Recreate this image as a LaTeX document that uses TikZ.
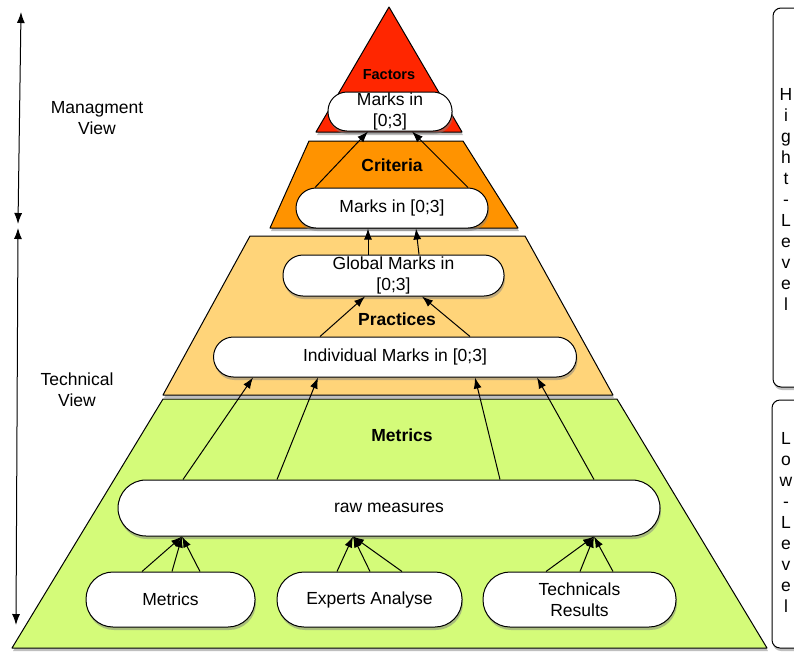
\documentclass[tikz,border=0pt]{standalone}
\usepackage{fontspec}
\setmainfont{Liberation Sans}
\usetikzlibrary{arrows.meta,calc,shadows}
\definecolor{cred}{HTML}{FF2600}
\definecolor{corange}{HTML}{FF9300}
\definecolor{clight}{HTML}{FFD479}
\definecolor{cgreen}{HTML}{D4FB79}
\tikzset{
  layer/.style={draw=black, line width=1pt, line join=round,
    drop shadow={shadow xshift=1pt, shadow yshift=-3pt, opacity=0.5}},
  pill/.style={draw=black, fill=white, line width=1pt, rounded corners=#1,
    inner sep=0pt, align=center, font=\fontsize{17.5}{21}\selectfont,
    drop shadow={shadow xshift=1pt, shadow yshift=-3pt, opacity=0.5}},
  lbl/.style={font=\fontsize{17.5}{21}\selectfont, align=center, inner sep=0pt},
  blbl/.style={font=\fontsize{17.5}{21}\selectfont\bfseries, inner sep=0pt},
  side/.style={draw=black, line width=1pt, fill=white, rounded corners=8pt,
    drop shadow={shadow xshift=1pt, shadow yshift=-3pt, opacity=0.5}},
  arr/.style={line width=1pt, -{Latex[length=11pt,width=8pt]}},
  dbl/.style={line width=1pt, {Latex[length=11pt,width=8pt]}-{Latex[length=11pt,width=8pt]}}
}
\begin{document}
\begin{tikzpicture}[x=1pt,y=-1pt]
\useasboundingbox (0,0) rectangle (794,651);
% pyramid layers
\draw[layer, fill=cgreen] (163,399) -- (617,399) -- (767,648) -- (12,648) -- cycle;
\draw[layer, fill=clight] (250,236) -- (525,236) -- (613,395) -- (163,395) -- cycle;
\draw[layer, fill=corange] (309,141) -- (463,141) -- (518,228) -- (270,228) -- cycle;
\draw[layer, fill=cred] (389,7) -- (462,132) -- (316,132) -- cycle;
% layer titles
\node[blbl, font=\fontsize{14.5}{17}\selectfont\bfseries] (tfac) at (389,75) {Factors};
\node[blbl] (tcrit) at (392,165) {Criteria};
\node[blbl] (tprac) at (397,319) {Practices};
\node[blbl] (tmet) at (402,435) {Metrics};
% pills
\node[pill=19pt, minimum width=124pt, minimum height=39pt] (top) at (390,111.5) {Marks in\\{[0;3]}};
\node[pill=20pt, minimum width=192pt, minimum height=40pt] (crit) at (392,208) {Marks in [0;3]};
\node[pill=20pt, minimum width=221pt, minimum height=41pt] (glob) at (393.5,275.5) {Global Marks in\\{[0;3]}};
\node[pill=20pt, minimum width=363pt, minimum height=40pt] (ind) at (395,357) {Individual Marks in [0;3]};
\node[pill=28pt, minimum width=542pt, minimum height=56pt] (raw) at (389,508) {raw measures};
\node[pill=27pt, minimum width=169pt, minimum height=55pt] (met) at (170.5,599.5) {Metrics};
\node[pill=27pt, minimum width=185pt, minimum height=55pt] (exp) at (369.5,599.5) {Experts Analyse};
\node[pill=27pt, minimum width=193pt, minimum height=55pt] (tech) at (579.5,599.5) {Technicals\\Results};
% arrows bottom boxes -> raw
\foreach \d in {-28.5,1.5,29.5} \draw[arr] ($(met.north)+(\d,0)$) -- ($(raw.south)+(-207,0)$);
\foreach \d in {-32.5,0.5,32.5} \draw[arr] ($(exp.north)+(\d,0)$) -- ($(raw.south)+(-36,0)$);
\foreach \d in {-33.5,0.5,33.5} \draw[arr] ($(tech.north)+(\d,0)$) -- ($(raw.south)+(205,0)$);
% raw -> individual
\draw[arr] ($(raw.north)+(-206,0)$) -- ($(ind.south)+(-142,0)$);
\draw[arr] ($(raw.north)+(-112,0)$) -- ($(ind.south)+(-77,0)$);
\draw[arr] ($(raw.north)+(111,0)$) -- ($(ind.south)+(80,0)$);
\draw[arr] ($(raw.north)+(205,0)$) -- ($(ind.south)+(142,0)$);
% individual -> global
\draw[arr] ($(ind.north)+(-75,0)$) -- ($(glob.south)+(-28.5,0)$);
\draw[arr] ($(ind.north)+(75,0)$) -- ($(glob.south)+(28.5,0)$);
% global -> criteria
\draw[arr] ($(glob.north)+(-25.5,0)$) -- ($(crit.south)+(-24,0)$);
\draw[arr] ($(glob.north)+(25.5,0)$) -- ($(crit.south)+(24,0)$);
% criteria -> top
\draw[arr] ($(crit.north)+(-77,0)$) -- ($(top.south)+(-22,0)$);
\draw[arr] ($(crit.north)+(76,0)$) -- ($(top.south)+(22,0)$);
% left view arrows
\coordinate (m1) at (21,12);
\coordinate (m2) at (18,224);
\coordinate (t1) at (18,228);
\coordinate (t2) at (16,625);
\draw[dbl] (m1) -- (m2);
\draw[dbl] (t1) -- (t2);
\node[lbl] (mview) at (97,118.5) {Managment\\View};
\node[lbl] (tview) at (77,390) {Technical\\View};
% right level boxes
\draw[side] (773,8) rectangle (830,387);
\draw[side] (772,400) rectangle (830,648);
\node[lbl] (high) at (786,199) {H\\i\\g\\h\\t\\-\\L\\e\\v\\e\\l};
\node[lbl] (low) at (786,522.5) {L\\o\\w\\-\\L\\e\\v\\e\\l};
\end{tikzpicture}
\end{document}
